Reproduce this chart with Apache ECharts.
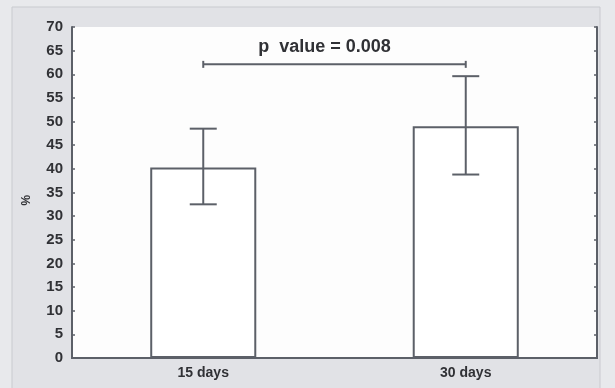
<!DOCTYPE html>
<html>
<head>
<meta charset="utf-8">
<script src="https://cdn.jsdelivr.net/npm/echarts@6/dist/echarts.min.js"></script>
<style>
html,body{margin:0;padding:0;background:#e8e9ec;}
#c{width:615px;height:388px;}
</style>
</head>
<body>
<div id="c"></div>
<script>
var categories = ['15 days', '30 days'];
var means = [40.3, 49.0];
var errLow = [32.5, 38.8];
var errHigh = [48.5, 59.6];
var bracketFrom = 0, bracketTo = 1, bracketY = 62.1;
var pText = 'p  value = 0.008';
var yTicks = {min: 0, max: 70, interval: 5};

var lineColor = '#5c6068';
var textColor = '#303135';
var font = 'Liberation Sans, Arial, sans-serif';

var chart = echarts.init(document.getElementById('c'));

var errData = categories.map(function (c, i) { return [i, errLow[i], errHigh[i]]; });

chart.setOption({
  animation: false,
  backgroundColor: 'transparent',
  graphic: [{
    type: 'rect', z: -10,
    shape: {x: 12, y: 7, width: 588, height: 390},
    style: {fill: '#e1e2e6', stroke: '#c9cacf', lineWidth: 1}
  }, {
    type: 'text', left: 18, top: 195, rotation: -Math.PI / 2,
    style: {text: '%', font: 'bold 12px ' + font, fill: textColor}
  }],
  grid: {left: 72, right: 18, top: 27, bottom: 30, show: true, backgroundColor: '#fdfdfd', borderWidth: 0},
  xAxis: [{
    type: 'category', data: categories, position: 'bottom',
    axisLine: {lineStyle: {color: lineColor, width: 2}},
    axisTick: {inside: true, length: 4, lineStyle: {color: lineColor, width: 2}},
    axisLabel: {color: textColor, fontWeight: 'bold', fontSize: 14, fontFamily: font, margin: 8}
  }, {
    type: 'category', data: categories, position: 'top',
    axisLine: {lineStyle: {color: lineColor, width: 2}},
    axisTick: {inside: true, length: 3, lineStyle: {color: lineColor, width: 1.5}},
    axisLabel: {show: false}
  }],
  yAxis: [{
    type: 'value', min: yTicks.min, max: yTicks.max, interval: yTicks.interval,
    axisLine: {show: true, lineStyle: {color: lineColor, width: 2}},
    axisTick: {show: true, inside: true, length: 3, lineStyle: {color: lineColor, width: 1.5}},
    splitLine: {show: false},
    axisLabel: {color: textColor, fontWeight: 'bold', fontSize: 15, fontFamily: font, margin: 9}
  }, {
    type: 'value', min: yTicks.min, max: yTicks.max, interval: yTicks.interval, position: 'right',
    axisLine: {show: true, lineStyle: {color: lineColor, width: 2}},
    axisTick: {show: true, inside: true, length: 3, lineStyle: {color: lineColor, width: 1.5}},
    splitLine: {show: false},
    axisLabel: {show: false}
  }],
  series: [{
    type: 'bar', data: means, barWidth: '40.4%',
    itemStyle: {color: '#ffffff', borderColor: lineColor, borderWidth: 2},
    z: 2
  }, {
    type: 'custom', data: errData, z: 3,
    renderItem: function (params, api) {
      var x = api.value(0);
      var lo = api.coord([x, api.value(1)]);
      var hi = api.coord([x, api.value(2)]);
      var hw = 13.5;
      var st = {stroke: lineColor, lineWidth: 2};
      return {type: 'group', children: [
        {type: 'line', shape: {x1: lo[0], y1: lo[1], x2: hi[0], y2: hi[1]}, style: st},
        {type: 'line', shape: {x1: lo[0] - hw, y1: lo[1], x2: lo[0] + hw, y2: lo[1]}, style: st},
        {type: 'line', shape: {x1: hi[0] - hw, y1: hi[1], x2: hi[0] + hw, y2: hi[1]}, style: st}
      ]};
    }
  }, {
    type: 'custom', data: [[bracketFrom, bracketTo, bracketY]], z: 3,
    renderItem: function (params, api) {
      var a = api.coord([api.value(0), api.value(2)]);
      var b = api.coord([api.value(1), api.value(2)]);
      var st = {stroke: lineColor, lineWidth: 2};
      var mid = (a[0] + b[0]) / 2 - 10;
      return {type: 'group', children: [
        {type: 'line', shape: {x1: a[0], y1: a[1], x2: b[0], y2: b[1]}, style: st},
        {type: 'line', shape: {x1: a[0], y1: a[1] - 3.5, x2: a[0], y2: a[1] + 3.5}, style: st},
        {type: 'line', shape: {x1: b[0], y1: b[1] - 3.5, x2: b[0], y2: b[1] + 3.5}, style: st},
        {type: 'text', x: mid, y: a[1] - 17, style: {text: pText, font: 'bold 18px ' + font, fill: textColor, align: 'center', verticalAlign: 'middle'}}
      ]};
    }
  }]
});
</script>
</body>
</html>
